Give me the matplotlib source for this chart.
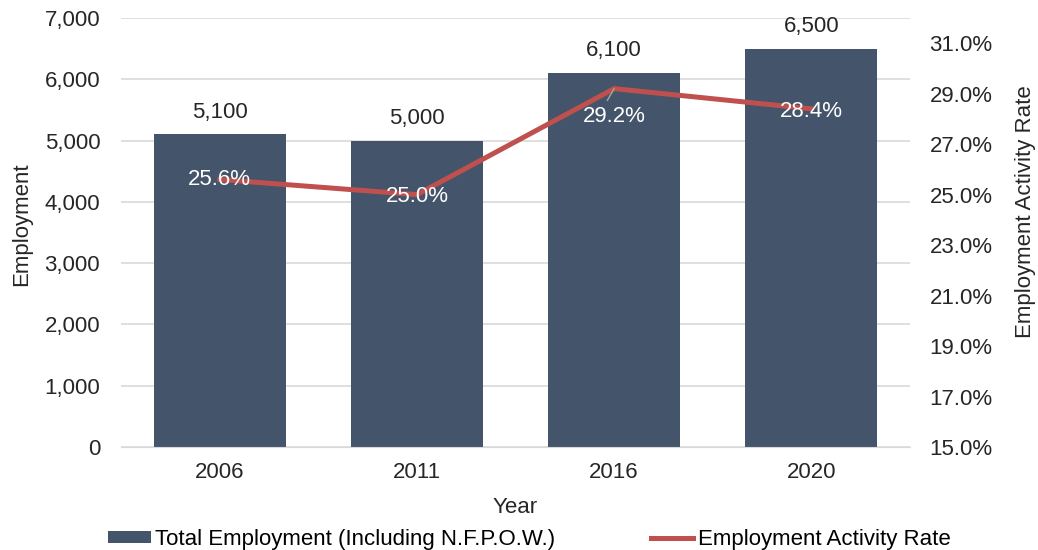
import matplotlib
matplotlib.use("Agg")
import matplotlib.pyplot as plt
from matplotlib.ticker import FuncFormatter, FixedLocator

years = ["2006", "2011", "2016", "2020"]
employment = [5100, 5000, 6100, 6500]
activity_rate = [25.6, 25.0, 29.2, 28.4]
emp_labels = ["5,100", "5,000", "6,100", "6,500"]
rate_labels = ["25.6%", "25.0%", "29.2%", "28.4%"]

BAR_COLOR = "#44546A"
LINE_COLOR = "#C0504D"
TEXT_COLOR = "#262626"
FS = 16

plt.rcParams["font.family"] = ["Liberation Sans", "DejaVu Sans"]
plt.rcParams["font.size"] = FS

fig = plt.figure(figsize=(10.38, 5.5), dpi=100)
ax = fig.add_axes([0.1166, 0.1873, 0.7601, 0.780])
ax2 = ax.twinx()

x = list(range(len(years)))
bars = ax.bar(x, employment, width=0.67, color=BAR_COLOR, zorder=2,
              label="Total Employment (Including N.F.P.O.W.)")
ax.set_ylim(0, 7000)
ax.set_xlim(-0.5, 3.5)
ax.yaxis.set_major_locator(FixedLocator(range(0, 7001, 1000)))
ax.yaxis.set_major_formatter(FuncFormatter(lambda v, p: f"{int(v):,}"))
ax.grid(axis="y", color="#D9D9D9", linewidth=1.2, zorder=0)
ax.set_axisbelow(True)
ax.set_xticks(x)
ax.set_xticklabels(years)
ax.set_xlabel("Year", color=TEXT_COLOR, labelpad=10)
ax.set_ylabel("Employment", color=TEXT_COLOR, labelpad=9)
ax.yaxis.label.set_y(0.52)

# bar data labels
for i, (v, lab) in enumerate(zip(employment, emp_labels)):
    ax.annotate(lab, (i, v), xytext=(0, 16), textcoords="offset points",
                ha="center", va="center", color=TEXT_COLOR)

line, = ax2.plot(x, activity_rate, color=LINE_COLOR, linewidth=3.6,
                 label="Employment Activity Rate", zorder=3)
ax2.set_ylim(15, 32)
ax2.yaxis.set_major_locator(FixedLocator([15, 17, 19, 21, 23, 25, 27, 29, 31]))
ax2.yaxis.set_major_formatter(FuncFormatter(lambda v, p: f"{v:.1f}%"))
ax2.set_ylabel("Employment Activity Rate", color=TEXT_COLOR, labelpad=16)
ax2.yaxis.label.set_y(0.548)

# line data labels (white, on the bars)
offsets = [(0, 0), (0, -1), (0, -20), (0, -2)]
for i, (v, lab) in enumerate(zip(activity_rate, rate_labels)):
    ax2.annotate(lab, (i, v), xytext=offsets[i], textcoords="offset points",
                 ha="center", va="center", color="white", zorder=4)
# leader line for 29.2%
ax2.annotate("", (2, activity_rate[2]), xytext=(-5, -8.6), textcoords="offset points",
             arrowprops=dict(arrowstyle="-", color="#A6A6A6", lw=1,
                             shrinkA=0, shrinkB=0))

for a in (ax, ax2):
    for s in ("top", "left", "right"):
        a.spines[s].set_visible(False)
    a.tick_params(length=0, colors=TEXT_COLOR, labelsize=FS)
ax.spines["bottom"].set_color("#D9D9D9")
ax2.spines["bottom"].set_visible(False)
ax.tick_params(axis="x", pad=11)
ax.tick_params(axis="y", pad=15)
ax2.tick_params(axis="y", pad=14)

fig.legend(handles=[bars, line], loc="center", bbox_to_anchor=(0.51, 0.019),
           ncol=2, frameon=False, columnspacing=4.3, handlelength=1.9,
           handleheight=0.45, handletextpad=0.2, borderpad=0, fontsize=FS)

fig.savefig("out.png", dpi=100)
